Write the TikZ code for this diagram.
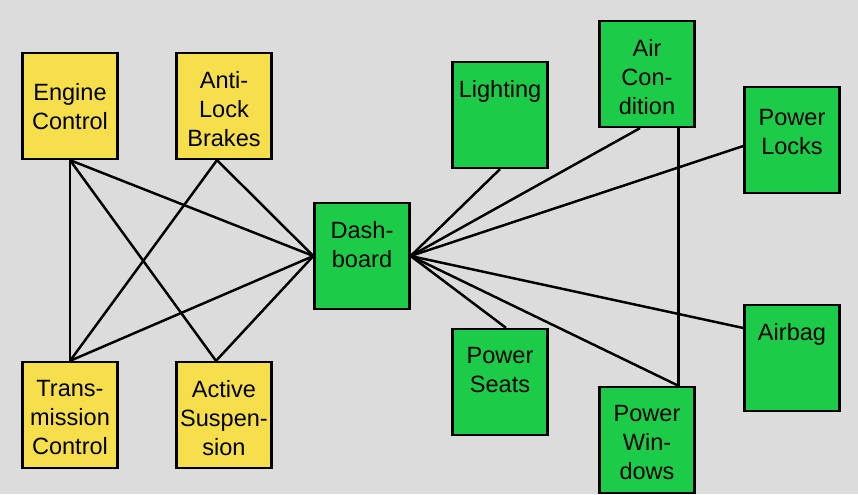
\documentclass[tikz,border=0pt]{standalone}
\usepackage{fontspec}
\setmainfont{Liberation Sans}
\usepackage{tikz}
\usetikzlibrary{positioning}

\definecolor{bggray}{HTML}{DCDCDC}
\definecolor{ecuyellow}{HTML}{F7DF4C}
\definecolor{ecugreen}{HTML}{1CCC48}

\tikzset{
  box/.style={draw=black,line width=1.3pt,minimum width=1.9cm,minimum height=2.12cm,inner sep=0pt},
  yellow box/.style={box,fill=ecuyellow},
  green box/.style={box,fill=ecugreen},
  txt/.style={anchor=north,align=center,inner sep=0pt,yshift=-0.39cm,
    font=\fontsize{13.4}{16.5}\selectfont},
  wire/.style={line width=1.4pt}
}

\begin{document}
\begin{tikzpicture}[x=0.02cm,y=-0.02cm]
    \fill[bggray] (0,0) rectangle (858,494);
    \useasboundingbox (0,0) rectangle (858,494);
    % left group
    \node[yellow box,label={[txt,yshift=-0.23cm]north:Engine\\Control}] (eng)   at (70,106)  {};
    \node[yellow box,label={[txt]north:Anti-\\Lock\\Brakes}]     (abs)   at (224,106) {};
    \node[yellow box,label={[txt]north:Trans-\\mission\\Control}] (trans) at (70,415)  {};
    \node[yellow box,label={[txt]north:Active\\Suspen-\\sion}]    (act)   at (224,415) {};
    % dashboard
    \node[green box,label={[txt]north:Dash-\\board}] (dash) at (362,256) {};
    % right group
    \node[green box,label={[txt]north:Lighting}]                 (light)  at (500,115) {};
    \node[green box,label={[txt]north:Air\\Con-\\dition}]         (air)    at (647,74)  {};
    \node[green box,label={[txt,yshift=-0.07cm]north:Power\\Locks}] (locks) at (792,140) {};
    \node[green box,label={[txt]north:Power\\Seats}]             (seats)  at (500,382) {};
    \node[green box,label={[txt]north:Power\\Win-\\dows}]         (win)    at (647,440) {};
    \node[green box,label={[txt]north:Airbag}]                   (airbag) at (792,358) {};
    \coordinate (winTop) at ([xshift=-0.34cm]win.north east);

    \draw[wire] (eng.south) -- (trans.north);
    \draw[wire] (eng.south) -- ([xshift=-0.16cm]act.north);
    \draw[wire] (eng.south) -- (dash.west);
    \draw[wire] ([xshift=-0.14cm]abs.south) -- (trans.north);
    \draw[wire] ([xshift=-0.14cm]abs.south) -- (dash.west);
    \draw[wire] (trans.north) -- (dash.west);
    \draw[wire] ([xshift=-0.16cm]act.north) -- (dash.west);

    \draw[wire] (dash.east) -- (light.south);
    \draw[wire] (dash.east) -- ([xshift=-0.14cm]air.south);
    \draw[wire] (dash.east) -- ([yshift=-0.12cm]locks.west);
    \draw[wire] (dash.east) -- ([yshift=0.6cm]airbag.west);
    \draw[wire] (dash.east) -- ([xshift=0.12cm]seats.north);
    \draw[wire] (dash.east) -- (winTop);
    \draw[wire] (winTop |- air.south) -- (winTop);
\end{tikzpicture}
\end{document}
